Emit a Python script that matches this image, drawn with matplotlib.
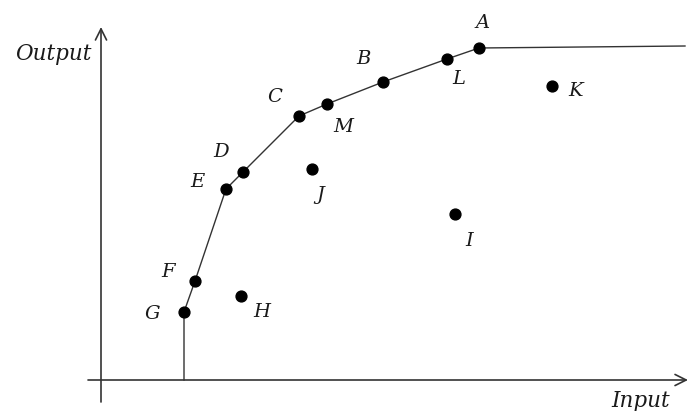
import matplotlib
matplotlib.use("Agg")
import matplotlib.pyplot as plt

# Point labels and their (input, output) values
labels = ["A", "B", "C", "D", "E", "F", "G", "H", "I", "J", "K", "L", "M"]
inputs = [37.8, 28.2, 19.8, 14.2, 12.5, 9.4, 8.3, 14.0, 35.4, 21.1, 45.1, 34.6, 22.6]
outputs = [33.2, 29.8, 26.4, 20.8, 19.1, 9.9, 6.8, 8.4, 16.6, 21.1, 29.4, 32.1, 27.6]

# Frontier path (through G, F, E, D, C, M, B, L, A, then flat)
frontier_x = [8.3, 8.3, 9.4, 12.5, 14.2, 19.8, 22.6, 28.2, 34.6, 37.8, 58.4]
frontier_y = [0.0, 6.8, 9.9, 19.1, 20.8, 26.4, 27.6, 29.8, 32.1, 33.2, 33.4]

# label offsets in pixels (style)
offsets = {"A": (4, 25), "B": (-20, 23), "C": (-24, 19), "D": (-22, 20),
           "E": (-29, 7), "F": (-27, 9), "G": (-32, -2), "H": (21, -16),
           "I": (14, -27), "J": (8, -26), "K": (24, -5), "L": (12, -20),
           "M": (16, -23)}

fig = plt.figure(figsize=(6.9, 4.11), dpi=100)
ax = fig.add_axes([0, 0, 1, 1])
ax.set_xlim(-10.1, 58.9)
ax.set_ylim(-3.1, 38.0)
ax.axis("off")

font = dict(family="DejaVu Serif", style="italic", fontsize=14, color="#1a1a1a")
font_ax = dict(font, fontsize=15.5)

# axes with arrows
ax.annotate("", xy=(58.7, 0), xytext=(-1.3, 0),
            arrowprops=dict(arrowstyle="->", lw=1.2, color="#333333",
                            mutation_scale=20, shrinkA=0, shrinkB=0))
ax.annotate("", xy=(0, 35.3), xytext=(0, -2.2),
            arrowprops=dict(arrowstyle="->", lw=1.2, color="#333333",
                            mutation_scale=20, shrinkA=0, shrinkB=0))

ax.plot(frontier_x, frontier_y, color="#333333", lw=1.0, zorder=2)
ax.plot(inputs, outputs, "o", color="black", markersize=7.8, zorder=3)

for lab, x, y in zip(labels, inputs, outputs):
    dx, dy = offsets[lab]
    ax.annotate(lab, (x, y), xytext=(dx, dy), textcoords="offset pixels",
                ha="center", va="center", **font)

ax.text(-4.75, 32.6, "Output", ha="center", va="center", **font_ax)
ax.text(54.0, -2.1, "Input", ha="center", va="center", **font_ax)

fig.savefig("out.png", dpi=100)
